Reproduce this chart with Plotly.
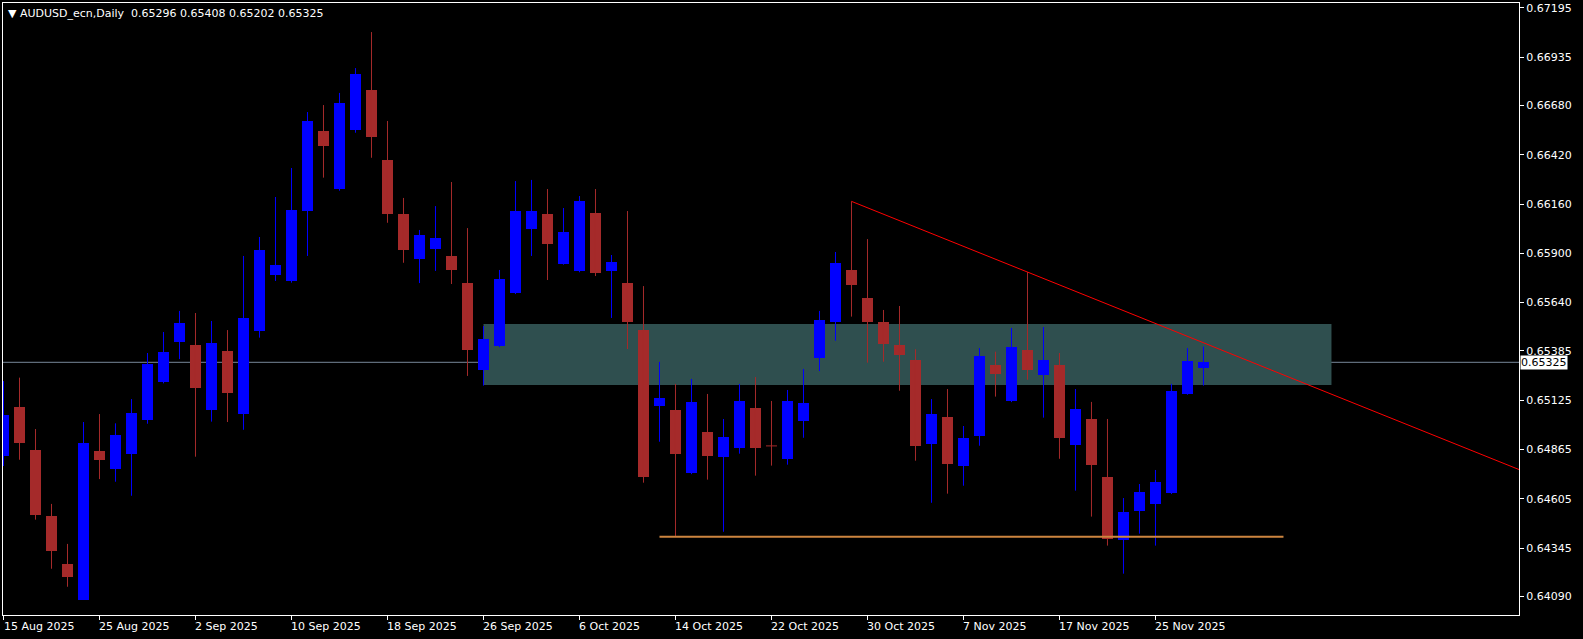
import plotly.graph_objects as go
import pandas as pd

# ---------------- data ----------------
symbol_title = "AUDUSD_ecn,Daily  0.65296 0.65408 0.65202 0.65325"

dates = [f"{d.day} {d.strftime('%b %Y')}" for d in pd.bdate_range("2025-08-15", periods=76)]

opens = [0.64832, 0.65089, 0.64862, 0.64514, 0.64261, 0.64073, 0.64857, 0.64762, 0.64843, 0.65022,
         0.65223, 0.65434, 0.65416, 0.65075, 0.65385, 0.65054, 0.65490, 0.65785, 0.65754, 0.66123,
         0.66545, 0.66239, 0.66552, 0.66761, 0.66392, 0.66107, 0.65870, 0.65923, 0.65886, 0.65743,
         0.65286, 0.65413, 0.65691, 0.66028, 0.66107, 0.65845, 0.65807, 0.66113, 0.65807, 0.65743,
         0.65495, 0.65096, 0.65073, 0.64741, 0.64957, 0.64827, 0.64875, 0.65084, 0.64884, 0.64815,
         0.65015, 0.65349, 0.65539, 0.65812, 0.65664, 0.65538, 0.65415, 0.65337, 0.64896, 0.65036,
         0.64780, 0.64938, 0.65309, 0.65122, 0.65390, 0.65260, 0.65311, 0.64889, 0.65026, 0.64720,
         0.64389, 0.64542, 0.64579, 0.64637, 0.65159, 0.65296]
highs = [0.65226, 0.65244, 0.64973, 0.64578, 0.64367, 0.65010, 0.65052, 0.65003, 0.65131, 0.65374,
         0.65485, 0.65596, 0.65585, 0.65543, 0.65495, 0.65886, 0.65986, 0.66197, 0.66350, 0.66645,
         0.66682, 0.66746, 0.66877, 0.67067, 0.66598, 0.66192, 0.66023, 0.66149, 0.66276, 0.66033,
         0.65516, 0.65812, 0.66281, 0.66287, 0.66239, 0.66139, 0.66202, 0.66239, 0.65891, 0.66123,
         0.65727, 0.65327, 0.65211, 0.65237, 0.65158, 0.65026, 0.65211, 0.65247, 0.65121, 0.65179,
         0.65290, 0.65596, 0.65907, 0.66174, 0.65975, 0.65601, 0.65622, 0.65394, 0.65131, 0.65184,
         0.64989, 0.65400, 0.65381, 0.65506, 0.65801, 0.65511, 0.65374, 0.65184, 0.65116, 0.65026,
         0.64609, 0.64683, 0.64757, 0.65211, 0.65400, 0.65408]
lows = [0.64778, 0.64811, 0.64495, 0.64236, 0.64141, 0.64073, 0.64709, 0.64695, 0.64621, 0.65001,
        0.65214, 0.65342, 0.64827, 0.65012, 0.65010, 0.64969, 0.65455, 0.65754, 0.65745, 0.65886,
        0.66299, 0.66230, 0.66536, 0.66404, 0.66061, 0.65850, 0.65743, 0.65807, 0.65738, 0.65253,
        0.65202, 0.65405, 0.65685, 0.65886, 0.65759, 0.65840, 0.65800, 0.65780, 0.65559, 0.65395,
        0.64690, 0.64906, 0.64409, 0.64735, 0.64706, 0.64431, 0.64843, 0.64727, 0.64780, 0.64785,
        0.64927, 0.65279, 0.65439, 0.65566, 0.65323, 0.65328, 0.65175, 0.64806, 0.64584, 0.64632,
        0.64674, 0.64885, 0.65144, 0.65115, 0.65233, 0.65033, 0.64816, 0.64648, 0.64511, 0.64358,
        0.64210, 0.64421, 0.64358, 0.64630, 0.65154, 0.65202]
closes = [0.65047, 0.64901, 0.64521, 0.64331, 0.64194, 0.64899, 0.64810, 0.64942, 0.65058, 0.65318,
          0.65381, 0.65532, 0.65191, 0.65427, 0.65163, 0.65559, 0.65917, 0.65837, 0.66128, 0.66598,
          0.66468, 0.66693, 0.66846, 0.66515, 0.66109, 0.65919, 0.65997, 0.65981, 0.65813, 0.65391,
          0.65448, 0.65764, 0.66123, 0.66123, 0.65951, 0.66012, 0.66176, 0.65796, 0.65854, 0.65538,
          0.64722, 0.65137, 0.64843, 0.65116, 0.64832, 0.64931, 0.65121, 0.64875, 0.64884, 0.65121,
          0.65110, 0.65548, 0.65849, 0.65734, 0.65539, 0.65423, 0.65365, 0.64885, 0.65052, 0.64790,
          0.64926, 0.65358, 0.65265, 0.65406, 0.65286, 0.65337, 0.64927, 0.65079, 0.64785, 0.64395,
          0.64535, 0.64641, 0.64694, 0.65174, 0.65332, 0.65325]

date_tick_index = [0, 6, 12, 18, 24, 30, 36, 42, 48, 54, 60, 66, 72]
date_tick_labels = ["15 Aug 2025", "25 Aug 2025", "2 Sep 2025", "10 Sep 2025", "18 Sep 2025",
                    "26 Sep 2025", "6 Oct 2025", "14 Oct 2025", "22 Oct 2025", "30 Oct 2025",
                    "7 Nov 2025", "17 Nov 2025", "25 Nov 2025"]
price_ticks = [0.67195, 0.66935, 0.66680, 0.66420, 0.66160, 0.65900, 0.65640,
               0.65385, 0.65125, 0.64865, 0.64605, 0.64345, 0.64090]
price_tick_labels = ["0.67195", "0.66935", "0.66680", "0.66420", "0.66160", "0.65900", "0.65640",
                     "0.65385", "0.65125", "0.64865", "0.64605", "0.64345", "0.64090"]

current_price = 0.65325
zone_x = [30, 83]
zone_y = [0.65205, 0.65527]
support_x = [41, 80]
support_y = 0.64405
trend_x = [53, 64]
trend_y = [0.66174, 0.65801]

# ---------------- styles ----------------
BULL = "#0000FF"
BEAR = "#A52A2A"
FONT = "DejaVu Sans"
X_RANGE = [-0.031, 94.72]
Y_RANGE = [0.63992, 0.672203]
BODY_W = 0.6875

xs = list(range(len(opens)))
fig = go.Figure()

bull_idx = [i for i in xs if closes[i] > opens[i]]
bear_idx = [i for i in xs if closes[i] <= opens[i]]

def wick_trace(idx, color):
    wx, wy = [], []
    for i in idx:
        wx += [i, i, None]
        wy += [lows[i], highs[i], None]
        if abs(closes[i] - opens[i]) < 0.00003:
            wx += [i - BODY_W / 2, i + BODY_W / 2, None]
            wy += [opens[i], opens[i], None]
    return go.Scatter(x=wx, y=wy, mode="lines", line=dict(color=color, width=1),
                      hoverinfo="skip", showlegend=False)

fig.add_trace(wick_trace(bull_idx, BULL))
fig.add_trace(wick_trace(bear_idx, BEAR))

for idx, color in ((bull_idx, BULL), (bear_idx, BEAR)):
    idx = [i for i in idx if abs(closes[i] - opens[i]) >= 0.00003]
    fig.add_trace(go.Bar(
        x=idx,
        y=[abs(closes[i] - opens[i]) for i in idx],
        base=[min(opens[i], closes[i]) for i in idx],
        width=BODY_W,
        marker=dict(color=color, line=dict(width=0)),
        hoverinfo="skip", showlegend=False))

# trend ray, extended to right edge
slope = (trend_y[1] - trend_y[0]) / (trend_x[1] - trend_x[0])
x_end = X_RANGE[1] + 1
fig.add_shape(type="line", xref="x", yref="y", x0=trend_x[0], y0=trend_y[0],
              x1=x_end, y1=trend_y[0] + slope * (x_end - trend_x[0]),
              line=dict(color="#FF0000", width=1), layer="above")

# zone
fig.add_shape(type="rect", xref="x", yref="y", x0=zone_x[0], x1=zone_x[1],
              y0=zone_y[0], y1=zone_y[1], fillcolor="#2F4F4F", line=dict(width=0), layer="below")
# current price line
fig.add_shape(type="line", xref="paper", yref="y", x0=0, x1=1, y0=current_price, y1=current_price,
              line=dict(color="#778899", width=1), layer="below")
# support line
fig.add_shape(type="line", xref="x", yref="y", x0=support_x[0], x1=support_x[1],
              y0=support_y, y1=support_y, line=dict(color="#CD853F", width=2), layer="above")

# date labels
for i, lab in zip(date_tick_index, date_tick_labels):
    fig.add_annotation(x=i, xref="x", y=0, yref="paper", text=lab, showarrow=False,
                       xanchor="left", yanchor="top", xshift=-2, yshift=-3,
                       font=dict(family=FONT, size=11, color="white"))

# current price label
fig.add_annotation(x=1, xref="paper", y=current_price, yref="y", text="0.65325", showarrow=False,
                   xanchor="left", yanchor="middle", xshift=1, bgcolor="white", borderpad=0,
                   font=dict(family=FONT, size=11, color="black"))

# title
fig.add_annotation(x=0, xref="paper", y=1, yref="paper", text="▼ " + symbol_title, showarrow=False,
                   xanchor="left", yanchor="top", xshift=3, yshift=-2,
                   font=dict(family=FONT, size=11, color="white"))

fig.update_layout(
    width=1583, height=639, autosize=False,
    margin=dict(l=3, r=64, t=3, b=24, pad=0),
    paper_bgcolor="black", plot_bgcolor="black",
    barmode="overlay", bargap=0, showlegend=False, hovermode=False,
    xaxis=dict(range=X_RANGE, showgrid=False, zeroline=False,
               tickvals=date_tick_index, ticks="outside", ticklen=4, tickcolor="white",
               showticklabels=False, showline=True, linecolor="white", linewidth=1, mirror=True),
    yaxis=dict(range=Y_RANGE, side="right", showgrid=False, zeroline=False,
               tickvals=price_ticks, ticktext=price_tick_labels, ticks="outside", ticklen=4,
               tickcolor="white", tickfont=dict(family=FONT, size=11, color="white"),
               showline=True, linecolor="white", linewidth=1, mirror=True),
)

fig.write_html("out.html", config={"displayModeBar": False},
               post_script="document.body.style.margin='0';document.body.style.overflow='hidden';"
                           "document.body.style.background='black';")
